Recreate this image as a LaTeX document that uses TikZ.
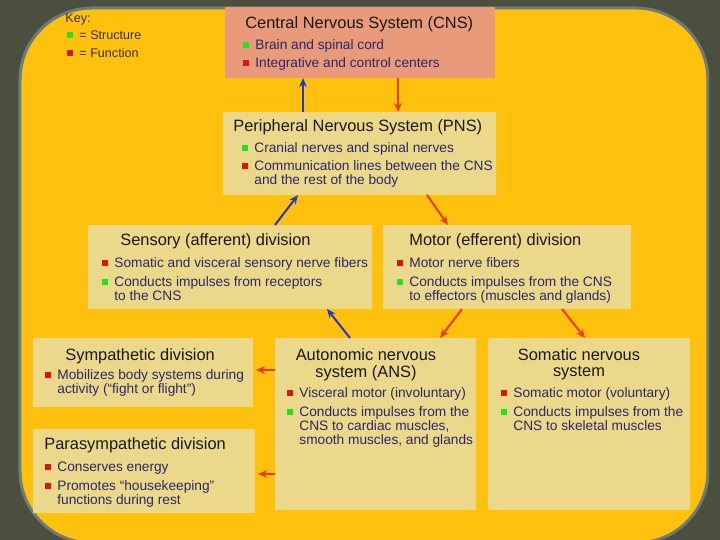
\documentclass[tikz,border=0pt]{standalone}
\usepackage{fontspec}
\setmainfont{Liberation Sans}
\usepackage{xcolor}
\usepackage{tikz}
\usetikzlibrary{positioning, arrows.meta, fit, calc}
\definecolor{nsback}{HTML}{4A4F40}
\definecolor{nsedge}{HTML}{6E7C78}
\definecolor{nsamber}{HTML}{FFC10E}
\definecolor{nssalmon}{HTML}{E99A7A}
\definecolor{nskhaki}{HTML}{EBD88B}
\definecolor{nsblue}{HTML}{2236D0}
\definecolor{nsred}{HTML}{EE3A10}
\definecolor{nsgreen}{HTML}{22E022}
\definecolor{nsmark}{HTML}{DD1414}
\definecolor{nsink}{HTML}{2A2868}
\newcommand{\sq}[1]{\textcolor{#1}{\rule[1.2pt]{3pt}{3pt}}\hspace{3pt}}
\newcommand{\rows}[1]{\begin{tabular}[t]{@{}l@{}}#1\end{tabular}}

\begin{document}
\begin{tikzpicture}[x=0.5pt, y=-0.5pt,
        box/.style={fill=nskhaki, inner sep=0pt, outer sep=0pt},
        title/.style={anchor=base west, inner sep=0pt, font=\fontsize{8.2}{7.5}\selectfont, text=black!90},
        item/.style={anchor=base west, inner sep=0pt, font=\fontsize{6.85}{6.75}\selectfont, text=nsink},
        key/.style={anchor=base west, inner sep=0pt, font=\fontsize{6.3}{7}\selectfont, text=black!80},
        toward/.style={nsblue, line width=1pt, -{Stealth[length=4.5pt, width=3.8pt]}},
        away/.style={nsred, line width=1pt, -{Stealth[length=4.5pt, width=3.8pt]}}]
        % backdrop and panel
        \fill[nsback] (0,0) rectangle (720,540);
        \useasboundingbox (0,0) rectangle (720,540);
        \filldraw[fill=nsamber, draw=nsedge, line width=1.5pt, rounded corners=36pt] (20,8) rectangle (708,543);

        % key
        \node[key] (keyhead) at (65,23) {Key:};
        \node[key] (keygreen) at (67,40) {\sq{nsgreen}= Structure};
        \node[key] (keyred) at (67,58) {\sq{nsmark}= Function};

        % boxes
        \node[box, fill=nssalmon, fit={(225,7) (495,78)}] (cns) {};
        \node[box, fit={(223,112) (496,195)}] (pns) {};
        \node[box, fit={(88,225) (372,309)}] (sens) {};
        \node[box, fit={(383,225) (631,309)}] (motor) {};
        \node[box, fit={(33,338) (253,407)}] (symp) {};
        \node[box, fit={(33,429) (255,513)}] (para) {};
        \node[box, fit={(275,338) (476,510)}] (ans) {};
        \node[box, fit={(488,338) (690,510)}] (soma) {};

        % central
        \node[title] (cns-t) at (245,29) {Central Nervous System (CNS)};
        \node[item] (cns-1) at (243,50) {\sq{nsgreen}Brain and spinal cord};
        \node[item] (cns-2) at (243,68) {\sq{nsmark}Integrative and control centers};

        % peripheral
        \node[title] (pns-t) at (233,132) {Peripheral Nervous System (PNS)};
        \node[item] (pns-1) at (242,153) {\sq{nsgreen}Cranial nerves and spinal nerves};
        \node[item] (pns-2) at (242,171) {\sq{nsmark}\rows{Communication lines between the CNS\\and the rest of the body}};

        % sensory
        \node[title] (sens-t) at (120,246) {Sensory (afferent) division};
        \node[item] (sens-1) at (102,268) {\sq{nsmark}Somatic and visceral sensory nerve fibers};
        \node[item] (sens-2) at (102,287) {\sq{nsgreen}\rows{Conducts impulses from receptors\\to the CNS}};

        % motor
        \node[title] (motor-t) at (409,246) {Motor (efferent) division};
        \node[item] (motor-1) at (397,268) {\sq{nsmark}Motor nerve fibers};
        \node[item] (motor-2) at (397,287) {\sq{nsgreen}\rows{Conducts impulses from the CNS\\to effectors (muscles and glands)}};

        % sympathetic
        \node[title] (symp-t) at (65,361) {Sympathetic division};
        \node[item] (symp-1) at (45,380) {\sq{nsmark}\rows{Mobilizes body systems during\\activity (“fight or flight”)}};

        % parasympathetic
        \node[title] (para-t) at (44,450) {Parasympathetic division};
        \node[item] (para-1) at (45,472) {\sq{nsmark}Conserves energy};
        \node[item] (para-2) at (45,491) {\sq{nsmark}\rows{Promotes “housekeeping”\\functions during rest}};

        % autonomic
        \node[title, anchor=base] (ans-t) at (366,361) {\begin{tabular}[t]{@{}c@{}}Autonomic nervous\\system (ANS)\end{tabular}};
        \node[item] (ans-1) at (287,398) {\sq{nsmark}Visceral motor (involuntary)};
        \node[item] (ans-2) at (287,417) {\sq{nsgreen}\rows{Conducts impulses from the\\CNS to cardiac muscles,\\smooth muscles, and glands}};

        % somatic
        \node[title, anchor=base] (soma-t) at (579,361) {\begin{tabular}[t]{@{}c@{}}Somatic nervous\\system\end{tabular}};
        \node[item] (soma-1) at (501,398) {\sq{nsmark}Somatic motor (voluntary)};
        \node[item] (soma-2) at (501,417) {\sq{nsgreen}\rows{Conducts impulses from the\\CNS to skeletal muscles}};

        % connectors
        \draw[toward] ($(pns.north west)+(80,0)$) -- ($(cns.south west)+(78,0)$);
        \draw[away] ($(cns.south west)+(173,0)$) -- ($(pns.north west)+(175,0)$);
        \draw[toward] ($(sens.north west)+(187,0)$) -- ($(pns.south west)+(75,0)$);
        \draw[away] ($(pns.south west)+(204,0)$) -- ($(motor.north west)+(65,0)$);
        \draw[toward] ($(ans.north west)+(75,0)$) -- ($(sens.south west)+(239,0)$);
        \draw[away] ($(motor.south west)+(79,0)$) -- ($(ans.north west)+(165,0)$);
        \draw[away] ($(motor.south west)+(179,0)$) -- ($(soma.north west)+(97,0)$);
        \draw[away] ($(ans.north west)+(0,32)$) -- ($(symp.north east)+(3,32)$);
        \draw[away] ($(ans.north west)+(0,136)$) -- ($(para.north east)+(3,45)$);
      \end{tikzpicture}
\end{document}
